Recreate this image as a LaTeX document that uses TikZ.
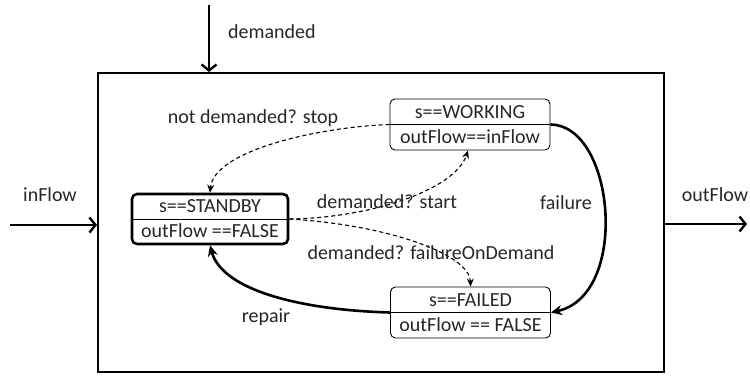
\documentclass[tikz,border=0pt]{standalone}
\usepackage{fontspec}
\setmainfont{Carlito}
\usetikzlibrary{arrows.meta}
\begin{document}
\begin{tikzpicture}[x=1pt,y=-1pt,
  every node/.style={font=\fontsize{20}{25}\selectfont, text=black!85},
  statebox/.style={draw, rounded corners=5pt, line width=0.9pt, minimum width=160pt, minimum height=51pt, align=center, inner sep=0pt,
     path picture={\draw[line width=0.9pt] (path picture bounding box.west) -- (path picture bounding box.east);}},
  initbox/.style={statebox, line width=2.6pt, minimum width=156pt, minimum height=50pt},
  lbl/.style={inner sep=0pt},
  flow/.style={line width=2.4pt, -{Straight Barb[length=6pt,width=15pt]}},
  trans/.style={line width=2.6pt, -{Stealth[length=11pt,width=10pt]}},
  cond/.style={dashed, line width=1.1pt, dash pattern=on 4pt off 3pt, -{Stealth[length=8pt,width=7pt]}}
]
\useasboundingbox (0,0) rectangle (750,377);
\node[draw, line width=2pt, minimum width=566pt, minimum height=299pt, inner sep=0pt] (sys) at (381,222.5) {};
\node[initbox] (sb) at (210,219) {s==STANDBY\\outFlow ==FALSE};
\node[statebox] (wk) at (470,124.5) {s==WORKING\\outFlow==inFlow};
\node[statebox] (fd) at (470.5,312.5) {s==FAILED\\outFlow == FALSE};
\coordinate (dem) at (209,5);
\coordinate (inS) at (10,225);
\coordinate (outE) at (747,224);
\draw[flow] (dem) -- (dem |- sys.north);
\draw[flow] (inS) -- (inS -| sys.west);
\draw[flow] (sys.east |- outE) -- (outE);
\node[lbl, anchor=west] (ldem) at (228,32) {demanded};
\node[lbl] (lin) at (50,195) {inFlow};
\node[lbl] (lout) at (715,195) {outFlow};
\draw[cond] (wk.west) .. controls (320,127) and (214,150) .. (sb.north);
\draw[cond] (sb.east) .. controls (370,218) and (455,190) .. ([xshift=-2pt]wk.south);
\draw[cond] (sb.east) .. controls (390,225) and (470,255) .. (fd.north);
\draw[trans] (wk.east) .. controls (615,125) and (630,295) .. (fd.east);
\draw[trans] (fd.west) .. controls (300,310) and (222,290) .. (sb.south);
\node[lbl] (l1) at (253,118) {not demanded? stop};
\node[lbl] (l2) at (387,202) {demanded? start};
\node[lbl] (l3) at (431,253) {demanded? failureOnDemand};
\node[lbl] (l4) at (566,203) {failure};
\node[lbl] (l5) at (266,317) {repair};
\end{tikzpicture}
\end{document}
